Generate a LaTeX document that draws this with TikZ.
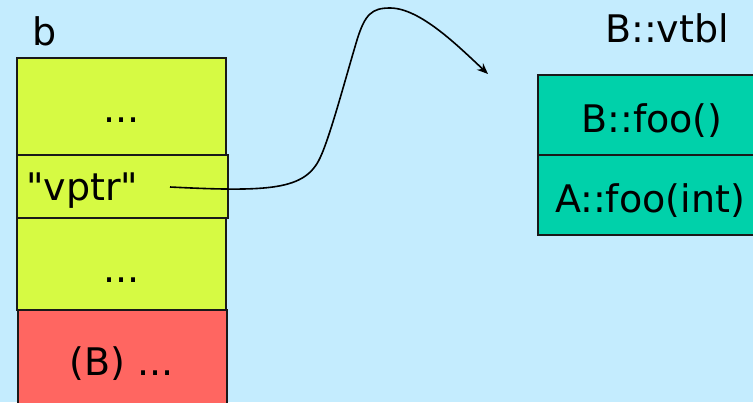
\documentclass[tikz,border=0pt]{standalone}
\usepackage{fontspec}
\newfontfamily\dvs{DejaVu Sans}
\usetikzlibrary{arrows.meta}
\definecolor{bgblue}{RGB}{196,236,254}
\definecolor{lime}{RGB}{214,250,67}
\definecolor{salmon}{RGB}{255,102,97}
\definecolor{teal2}{RGB}{0,209,170}
\definecolor{edge}{RGB}{25,25,25}
\tikzset{
  cell/.style={draw=edge, line width=1.6pt, inner sep=0pt, outer sep=0pt},
  lbl/.style={inner sep=0pt, anchor=base, font=\dvs\fontsize{38}{46}\selectfont, text=black},
  link/.style={draw=black, line width=1.6pt, -{Stealth[length=11pt,width=9pt]}}
}
\begin{document}
\begin{tikzpicture}[x=1pt,y=-1pt]
\useasboundingbox (0,0) rectangle (753,402);
\clip (0,0) rectangle (753,402);
\fill[bgblue] (0,0) rectangle (753,402);
% stack b
\node[cell, fill=lime, minimum width=209pt, minimum height=97pt] (top) at (121.5,106.5) {};
\node[cell, fill=lime, minimum width=209pt, minimum height=92pt] (mid) at (121.5,264) {};
\node[cell, fill=salmon, minimum width=209pt, minimum height=110pt] (red) at (122.5,365) {};
\node[cell, fill=lime, minimum width=211pt, minimum height=63pt] (vptr) at (122.5,186.5) {};
\node[lbl, anchor=base west] (bl) at (32,45) {b};
\node[lbl] (dots1) at (121.5,122) {...};
\node[lbl, anchor=base west] (vt) at (26,200) {"vptr"};
\node[lbl] (dots2) at (121.5,282) {...};
\node[lbl] (rb) at (121.5,375) {(B) ...};
% vtbl
\node[cell, fill=teal2, minimum width=232pt, minimum height=80pt] (f1) at (654,115) {};
\node[cell, fill=teal2, minimum width=232pt, minimum height=80pt] (f2) at (654,195) {};
\node[lbl] (vtl) at (667,42) {B::vtbl};
\node[lbl] (bf) at (652,132) {B::foo()};
\node[lbl] (af) at (650,212) {A::foo(int)};
% pointer
\coordinate (ps) at (170,187);
\coordinate (pe) at (488,74);
\draw[link] (ps) .. controls (270,192) and (305,190) .. (320,158)
  .. controls (330,137) and (345,80) .. (357,40)
  .. controls (365,14) and (372,8) .. (390,8)
  .. controls (420,8) and (458,46) .. (pe);
\end{tikzpicture}
\end{document}
